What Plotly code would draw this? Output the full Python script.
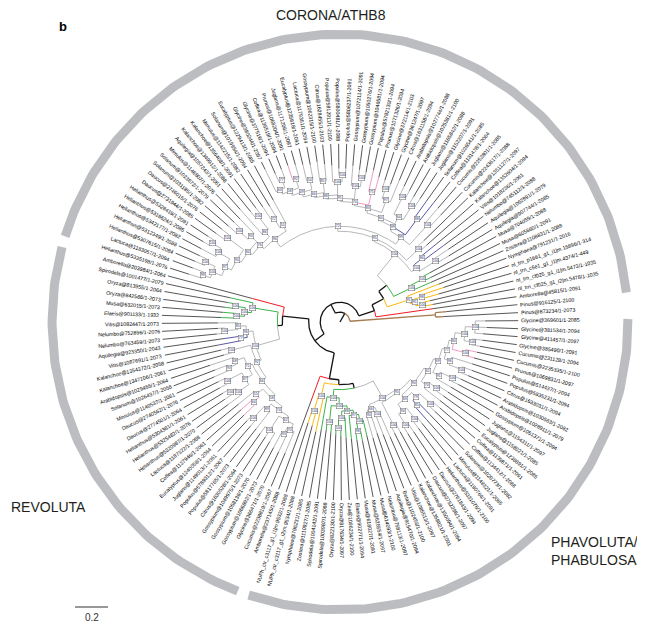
import numpy as np
import plotly.graph_objects as go

# leaf labels, counter-clockwise starting at the outgroup
pinus = ["Pinus@873234/1-2073", "Pinus@916125/1-2100"]

corona = [
    "Amborella@45815/1-2091",
    "nl_trn_cf025_g1_i2|m.5478/1-1035", "nl_trn_cf025_g1_i1|m.5473/1-1035",
    "nl_trn_c5e1_g1_i1|m.4374/1-449", "nl_trn_p1661_g1_i1|m.15896/1-314",
    "Nymphaea@791231/1-2016",
    "Zostera@1108831/1-2088", "Musa@605660/1-2091", "Musa@704059/1-2088",
    "Aquilegia@907744/1-2085", "Aquilegia@1062891/1-2079", "Nelumbo@745112/1-2088",
    "Vitis@1018236/1-2061", "Kalanchoe@1352604/1-2094", "Kalanchoe@1351127/1-2097",
    "Cucumis@2243617/1-2088", "Cucumis@2252801/1-2085", "Coffea@1131478/1-2064",
    "Solanum@1026541/1-2085", "Juglans@1152207/1-2091", "Juglans@1165842/1-2088",
    "Arabidopsis@1025381/1-2100", "Arabidopsis@1027744/1-2088", "Citrus@1631158/1-2094",
    "Glycine@361247/1-2097", "Glycine@372114/1-2103", "Prunus@1071326/1-2094",
    "Populus@5792130/1-2094", "Gossypium@1046581/1-2094", "Gossypium@1050276/1-2094",
    "Gossypium@1072114/1-2091", "Populus@5806237/1-2091", "Populus@5800481/1-2088",
    "Populus@5812911/1-2100", "Citrus@1628455/1-2103", "Gossypium@1062315/1-2100",
    "Lactuca@1179361/1-2094", "Eucalyptus@1235618/1-2091", "Juglans@1171206/1-2097",
    "Prunus@1068204/1-2091", "Coffea@1136519/1-2094", "Glycine@377516/1-2094",
    "Glycine@380244/1-2097", "Eucalyptus@1229413/1-2085", "Solanum@1019954/1-2094",
    "Mimulus@1142215/1-2082", "Kalanchoe@1356408/1-2091", "Kalanchoe@1349912/1-2088",
    "Aquilegia@1057243/1-2061", "Mimulus@1146807/1-2076", "Solanum@1023672/1-2079",
    "Solanum@1031185/1-2082", "Daucus@2746015/1-2076", "Daucus@2731944/1-2085",
    "Helianthus@5328419/1-2091", "Helianthus@5316624/1-2085", "Helianthus@5342177/1-2082",
    "Helianthus@5312349/1-2088", "Helianthus@5307615/1-2084", "Lactuca@1183057/1-2094",
    "Helianthus@5335198/1-2076",
]

revoluta = [
    "Amborella@203984/1-2064",
    "Spirodela@1001477/1-2079", "Oryza@813955/1-2064", "Oryza@842566/1-2073",
    "Musa@632015/1-2073", "Elaeis@901133/1-1932",
    "Vitis@1082447/1-2073", "Nelumbo@752896/1-2076", "Nelumbo@763459/1-2073",
    "Aquilegia@923350/1-2043", "Vitis@1087691/1-2073", "Kalanchoe@1354372/1-2058",
    "Kalanchoe@1347106/1-2061", "Arabidopsis@1029455/1-2064", "Solanum@1026437/1-2058",
    "Mimulus@1140537/1-2061", "Daucus@2740562/1-2076", "Daucus@2774501/1-2064",
    "Helianthus@5304381/1-2061", "Helianthus@5325482/1-2076", "Helianthus@5320987/1-2070",
    "Lactuca@1187322/1-2058", "Coffea@1137946/1-2061", "Eucalyptus@1240058/1-2064",
    "Juglans@1149013/1-2061", "Populus@5789312/1-2067", "Populus@5817765/1-2073",
    "Citrus@1630528/1-2064", "Gossypium@1049975/1-2073", "Gossypium@1058136/1-2070",
    "Gossypium@1066892/1-2073", "Glycine@366471/1-2070", "Cucumis@2238819/1-2067",
]

phavoluta = [
    "Amborella@237145/1-2088",
    "NUPh_ctr_c3117_g1_i1|m.9532/1-2088", "NUPh_ctr_c3117_g1_i2|m.9534/1-2088",
    "Nymphaea@796231/1-2085",
    "Zostera@1110927/1-2085", "Spirodela@1004142/1-2091", "Spirodela@1003987/1-2088",
    "Oryza@822130/1-2100", "Oryza@817634/1-2097", "Zea@1096234/1-2100",
    "Elaeis@902771/1-2094", "Musa@618027/1-2091", "Musa@626554/1-2097", "Musa@614093/1-2100",
    "Nelumbo@758113/1-2097", "Aquilegia@915470/1-2094", "Beta@1102456/1-2100",
    "Vitis@1085513/1-2097", "Kalanchoe@1358821/1-2091", "Kalanchoe@1350094/1-2094",
    "Daucus@2752296/1-2097", "Daucus@2761843/1-2094", "Helianthus@5331076/1-2100",
    "Lactuca@1190764/1-2091", "Mimulus@1148321/1-2085", "Solanum@1020773/1-2082",
    "Coffea@1134412/1-2088", "Coffea@1139871/1-2091", "Eucalyptus@1238891/1-2085",
    "Juglans@1158021/1-2085", "Juglans@1154311/1-2097", "Gossypium@1051371/1-2094",
    "Arabidopsis@1028911/1-2079", "Arabidopsis@1030563/1-2082", "Citrus@1633031/1-2094",
    "Populus@5835231/1-2094", "Populus@514437/1-2094", "Prunus@1069831/1-2097",
    "Cucumis@2235335/1-2100", "Cucumis@231128/1-2094", "Glycine@385490/1-2091",
    "Glycine@411457/1-2097", "Glycine@381534/1-2094", "Glycine@369601/1-2085",
]

# topology pieces: '*' = next leaf, label = support#colour, ':' = branch length
C_YEL = "(((*:0.06,*:0.05)100:0.04,(*:0.10,*:0.14)98:0.05)91:0.03,*:0.20)"
C_GRN = "(*:0.12,(*:0.05,*:0.06)100:0.08)"
C_A = "((*:0.08,*:0.10)100:0.12,(*:0.15,*:0.12)86#p:0.06)"
C_B = "(*:0.05,*:0.06)"
C_ROS = """(
 (*:0.10,*:0.12)100:0.16,
 ((*:0.14,*:0.12)88#p:0.12,
  (((*:0.06,*:0.05)100:0.10,(*:0.05,*:0.06)100:0.12)64:0.05,
   ((*:0.14,(*:0.04,*:0.05)100:0.06)97:0.08,
    ((*:0.10,*:0.13)75#i:0.08,
     (((*:0.04,*:0.05)100:0.05,*:0.12)100:0.08,
      (((*:0.04,*:0.04)100:0.04,*:0.10)100:0.08,
       ((*:0.10,*:0.12)81:0.07,
        ((*:0.09,*:0.10)54:0.06,
         ((*:0.08,*#i:0.09)92:0.06,
          ((*:0.06,*:0.05)77:0.05,*:0.15)63:0.03
         )58:0.03
        )49:0.03
       )66:0.02
      )88:0.02
     )91:0.02
    )70:0.02
   )83:0.03
  )60:0.02
 )99:0.03
)"""
C_AST = """(
 (*:0.16,(*:0.08,*:0.10)72:0.06)55:0.04,
 (((*:0.05,*:0.05)100:0.10,*:0.20)86:0.04,
  ((*:0.12,(*:0.06,*:0.07)100:0.07)93:0.05,
   ((*:0.06,*:0.07)100:0.12,
    (((*:0.04,*:0.05)100:0.06,*:0.10)100:0.08,
     ((*:0.05,*:0.06)100:0.06,(*:0.07,*:0.08)99:0.05)100:0.06
    )97:0.04
   )90:0.03
  )84:0.03
 )76:0.03
)"""
R_GRN = "(*:0.14,((*:0.05,*:0.06)100:0.06,(*:0.08,*:0.09)100:0.05)100:0.04)"
R_EUD = """(
 ((*:0.12,(*:0.04,*:0.05)100:0.08)85:0.05,(*:0.10,*:0.14)77#p:0.04)96:0.04,
 ((*:0.06,*:0.05)100:0.12,
  (((*:0.15,(*:0.08,*:0.10)93:0.05)68:0.06,
    ((*:0.05,*:0.06)100:0.10,((*:0.04,*:0.05)100:0.04,*:0.09)100:0.08)87:0.05)71:0.03,
   ((*:0.12,(*:0.09,*:0.10)64#i:0.04)55:0.05,
    (((*:0.04,*:0.05)100:0.09,*:0.13)89:0.04,
     ((*:0.05,*:0.05,*:0.06)100:0.10,((*:0.10,*:0.11)93:0.04,*:0.14)70:0.04)62:0.03)74:0.03)58:0.03
  )66:0.03
 )92:0.03
)"""
P_YEL = "((*:0.08,*:0.09)100:0.10,*:0.22)"
P_GRN = ("(*:0.20,((*:0.05,*:0.06)100:0.10,(((*:0.04,*:0.05)100:0.06,*:0.12)100:0.04,"
         "(*:0.14,((*:0.05,*:0.06)98:0.06,*:0.10)100:0.04)97:0.03)88:0.03)100:0.05)")
P_EUD = """(
 ((*:0.14,*:0.12)90:0.03,(*:0.13,*:0.16)100:0.04)66:0.03,
 ((*:0.05,*:0.06)100:0.15,
  ((((*:0.05,*:0.06)100:0.08,(*:0.06,*:0.05)100:0.08)94:0.05,((*:0.10,*:0.09)85#p:0.04,(*:0.05,*:0.06)100:0.09)79:0.04)83:0.03,
   ((*:0.12,(*:0.06,*:0.07)100:0.06)70:0.04,
    ((*:0.10,(*:0.05,*:0.05)100:0.08)91:0.04,
     (((*:0.05,*:0.06)100:0.08,*:0.13)96:0.04,
      ((*:0.06,*:0.07)100#i:0.08,((*:0.05,*:0.06)100:0.05,(*:0.05,*:0.07,*:0.06)100:0.06)100:0.06)84:0.03)77:0.03)69:0.03)61:0.03
  )90:0.03
 )95:0.02
)"""

C_EUD = f"({C_A}100:0.04,({C_B}100:0.10,({C_ROS}99:0.05,{C_AST}96:0.06)72:0.03)95:0.02)"
COR = f"(*#r:0.35,({C_YEL}91#y:0.14,({C_GRN}100#g:0.12,{C_EUD}100#s:0.17)#k:0.06)#k:0.08)100#k:0.10"
REV = f"(*#r:0.20,({R_GRN}100#g:0.16,{R_EUD}100#s:0.15)#k:0.03)100#k:0.16"
PHAV = f"(*#r:0.16,({P_YEL}100#y:0.08,({P_GRN}100#g:0.05,{P_EUD}100#s:0.12)#k:0.03)#k:0.03)100#k:0.16"
TREE = f"((*:0.05,*:0.07)#n:0.52,({COR},({REV},{PHAV})100#k:0.07)100#k:0.06)"

clade_names = ["CORONA/ATHB8", "REVOLUTA", "PHAVOLUTA/<br>PHABULOSA"]
clade_from = [5.9, 164.9, 251.5]
clade_to = [162.7, 249.2, 360.6]
scale_len = 0.2

COLS = {"k": ("#141414", 1.3), "n": ("#a67c52", 1.3), "r": ("#ed1c24", 1.0),
        "y": ("#f9b90f", 1.0), "g": ("#3cb44a", 1.0), "s": ("#a3a5a8", 0.8),
        "i": ("#f49ac2", 1.0), "p": ("#5b58a8", 1.0)}
PX = 165.0          # pixels per tree unit
W, H = 637, 616     # page body keeps an 8px margin
CX, CY = 332, 314   # tree centre inside the figure, pixels
ROOT_LEN = 0.06
R_TIP, R_LAB = 1.08, 1.10
A0 = 3.0
FS = 5.3


def parse(s):
    s = "".join(s.split())
    pos = 0

    def node():
        nonlocal pos
        nd = {"kids": [], "sup": None, "col": None, "len": 0.0}
        if s[pos] == "(":
            pos += 1
            while True:
                nd["kids"].append(node())
                ch = s[pos]
                pos += 1
                if ch == ")":
                    break
        else:
            pos += 1
        j = pos
        while pos < len(s) and s[pos] not in ":,)":
            pos += 1
        tok = s[j:pos]
        if tok:
            sup, _, col = tok.partition("#")
            nd["sup"] = sup or None
            nd["col"] = col or None
        if pos < len(s) and s[pos] == ":":
            pos += 1
            j = pos
            while pos < len(s) and s[pos] not in ",)":
                pos += 1
            nd["len"] = float(s[j:pos])
        return nd

    return node()


labels = pinus + corona + revoluta + phavoluta
step = 360.0 / len(labels)
root = parse(TREE)
root["len"] = ROOT_LEN
leaves, inner = [], []


def layout(nd, r0, col):
    nd["r"] = r0 + nd["len"]
    nd["c"] = nd["col"] or col
    if not nd["kids"]:
        k = len(leaves)
        nd["a"] = A0 + k * step
        nd["name"] = labels[k]
        leaves.append(nd)
        return
    for kid in nd["kids"]:
        layout(kid, nd["r"], nd["c"])
    nd["a"] = (nd["kids"][0]["a"] + nd["kids"][-1]["a"]) / 2
    inner.append(nd)


layout(root, 0.0, "k")

segs = {}


def add(key, xs, ys):
    bx, by = segs.setdefault(key, ([], []))
    bx.extend(list(xs) + [None])
    by.extend(list(ys) + [None])


def arc(r, a1, a2):
    n = max(2, int(abs(a2 - a1)) + 2)
    t = np.radians(np.linspace(a1, a2, n))
    return r * np.cos(t), r * np.sin(t)


def walk(nd, rp):
    t = np.radians(nd["a"])
    c, w = COLS[nd["c"]]
    add((c, w), [rp * np.cos(t), nd["r"] * np.cos(t)], [rp * np.sin(t), nd["r"] * np.sin(t)])
    if nd["kids"]:
        for kid in nd["kids"]:
            kc = COLS[kid["col"] or nd["c"]]
            add(kc, *arc(nd["r"], nd["a"], kid["a"]))
            walk(kid, nd["r"])
    else:
        add(("#1e1e1e", 0.75), [nd["r"] * np.cos(t), R_TIP * np.cos(t)],
            [nd["r"] * np.sin(t), R_TIP * np.sin(t)])


walk(root, 0.0)


def px(x, y):
    # page pixel (reference coordinates) -> tree units
    return (x - 8 - CX) / PX, (CY - (y - 8)) / PX


fig = go.Figure()

# clade bands
for a1, a2 in zip(clade_from, clade_to):
    bx, by = arc(1.745, a1, a2)
    fig.add_trace(go.Scatter(x=bx, y=by, mode="lines", line=dict(color="#bcbdc0", width=9),
                             hoverinfo="skip", showlegend=False))

for (c, w), (xs, ys) in segs.items():
    fig.add_trace(go.Scatter(x=xs, y=ys, mode="lines", line=dict(color=c, width=w),
                             hoverinfo="skip", showlegend=False))

# scale bar
sx0, sy0 = px(75, 607)
fig.add_trace(go.Scatter(x=[sx0, sx0 + scale_len], y=[sy0, sy0], mode="lines",
                         line=dict(color="#333333", width=1), hoverinfo="skip", showlegend=False))


def text_w(t):
    w = 0.0
    for ch in t:
        if ch in "ijl|.,/:;'!":
            w += 0.25
        elif ch in "frt-()":
            w += 0.32
        elif ch in "mw":
            w += 0.8
        elif ch == "@":
            w += 1.0
        elif ch.isupper():
            w += 0.68
        else:
            w += 0.54
    return w


ann = []
for nd in leaves:
    a = nd["a"] % 360
    L = text_w(nd["name"]) * FS / PX
    rc = R_LAB + L / 2
    t = np.radians(a)
    ta = 180 - a if 90 < a < 270 else -a
    if ta < -180:
        ta += 360
    ann.append(dict(x=rc * np.cos(t), y=rc * np.sin(t), text=nd["name"], showarrow=False,
                    textangle=ta, xanchor="center", yanchor="middle",
                    font=dict(size=FS, color="#000000")))

for nd in inner:
    # backbone nodes carry no boxed value in the figure
    if nd["sup"] and nd["c"] != "k":
        t = np.radians(nd["a"])
        ann.append(dict(x=nd["r"] * np.cos(t), y=nd["r"] * np.sin(t), text=nd["sup"],
                        showarrow=False, font=dict(size=3.5, color="#1b2a6b"),
                        bgcolor="white", bordercolor="#666666", borderwidth=0.5, borderpad=0.3))

tx, ty = px(331, 15)
ann.append(dict(x=tx, y=ty, text=clade_names[0], showarrow=False,
                font=dict(size=14, color="#231f20")))
tx, ty = px(9, 507)
ann.append(dict(x=tx, y=ty, text=clade_names[1], showarrow=False, xanchor="left",
                font=dict(size=14, color="#231f20")))
tx, ty = px(549, 551)
ann.append(dict(x=tx, y=ty, text=clade_names[2], showarrow=False, xanchor="left",
                align="left", font=dict(size=14, color="#231f20")))
tx, ty = px(63, 26)
ann.append(dict(x=tx, y=ty, text="<b>b</b>", showarrow=False,
                font=dict(size=13, color="#000000")))
tx, ty = px(91, 617)
ann.append(dict(x=sx0 + scale_len / 2, y=ty, text=str(scale_len), showarrow=False,
                font=dict(size=10, color="#333333")))

fig.update_layout(
    width=W, height=H, margin=dict(l=0, r=0, t=0, b=0),
    plot_bgcolor="white", paper_bgcolor="white",
    font=dict(family="Liberation Sans, Arial, sans-serif"),
    xaxis=dict(range=[-CX / PX, (W - CX) / PX], visible=False, fixedrange=True),
    yaxis=dict(range=[-(H - CY) / PX, CY / PX], visible=False, fixedrange=True),
    annotations=ann, hovermode=False,
)
fig.write_html("out.html")
